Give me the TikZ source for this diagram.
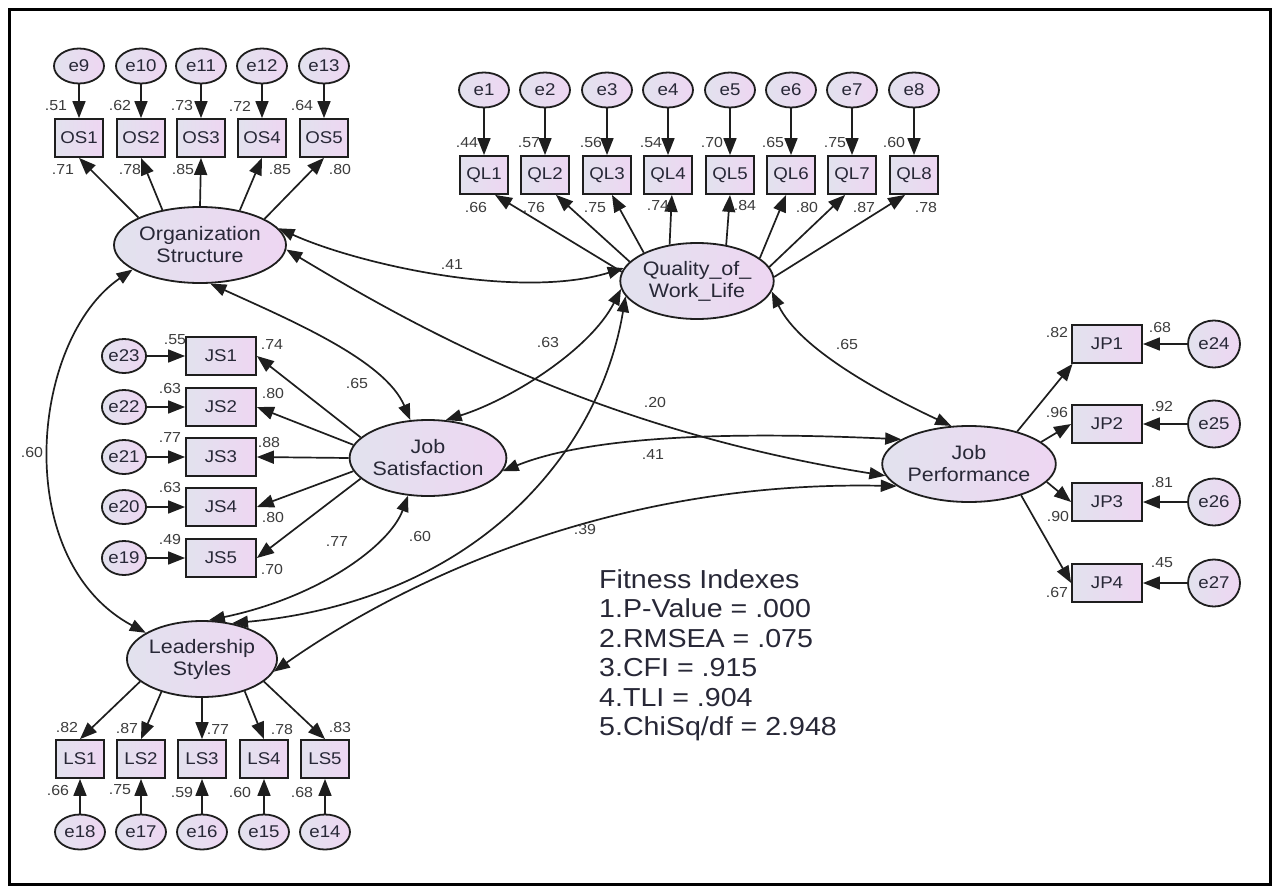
\documentclass[tikz,border=0pt]{standalone}
\usepackage{fontspec}
\setmainfont{Liberation Sans}[FakeStretch=1.1]
\usetikzlibrary{arrows.meta,shapes.geometric}
\definecolor{lvL}{RGB}{226,226,238}
\definecolor{lvR}{RGB}{238,214,242}
\definecolor{edgec}{RGB}{30,30,30}
\definecolor{txtc}{RGB}{40,40,55}
\definecolor{valc}{RGB}{60,60,60}
\tikzset{
 lat/.style={ellipse, draw=edgec, line width=1.8pt, left color=lvL, right color=lvR, minimum width=148pt, minimum height=76pt, inner sep=0pt, align=center, font=\fontsize{19.5}{22}\selectfont, text=txtc},
 err/.style={ellipse, draw=edgec, line width=1.8pt, left color=lvL, right color=lvR, minimum width=50pt, minimum height=35pt, inner sep=0pt, font=\fontsize{17}{20}\selectfont, text=txtc},
 serr/.style={err, minimum width=44pt, minimum height=34pt},
 cerr/.style={err, minimum width=52pt, minimum height=47pt},
 obs/.style={rectangle, draw=edgec, line width=1.8pt, left color=lvL, right color=lvR, minimum width=48pt, minimum height=38pt, inner sep=0pt, font=\fontsize{17}{20}\selectfont, text=txtc},
 wobs/.style={obs, minimum width=70pt},
 val/.style={font=\fontsize{14.5}{16}\selectfont, text=valc, inner sep=0pt},
 arr/.style={draw=edgec, line width=1.7pt, -{Triangle[length=17pt,width=13pt]}},
 cov/.style={draw=edgec, line width=1.7pt, {Triangle[length=16pt,width=12pt]}-{Triangle[length=16pt,width=12pt]}},
}
\begin{document}
\begin{tikzpicture}[x=1pt,y=-1pt]
\fill[white] (0,0) rectangle (1279,891);
\useasboundingbox (0,0) rectangle (1279,891);
\draw[line width=3pt, black] (9,10) rectangle (1270,884);

% latent variables
\node[lat] (OS) at (200,245) {Organization\\Structure};
\node[lat] (QWL) at (697,281) {Quality\_of\_\\Work\_Life};
\node[lat] (JS) at (428,458) {Job\\Satisfaction};
\node[lat] (JP) at (969,464) {Job\\Performance};
\node[lat] (LS) at (202,659) {Leadership\\Styles};

% OS indicators
\foreach \n/\x/\e/\a in {1/79/9/156,2/141/10/137,3/201/11/90,4/262/12/41,5/324/13/22}{
  \node[obs] (OS\n) at (\x,138) {OS\n};
  \node[err] (e\e) at (\x,66) {e\e};
  \draw[arr] (e\e) -- (OS\n);
  \draw[arr] (OS.\a) -- (OS\n.south);
}
% QL indicators
\foreach \n/\x/\a/\b in {1/484/173/-61,2/545/164/-61,3/607/152/-76,4/668/127/-79,5/730/51/-90,6/791/20/-104,7/852/11/-109,8/914/3/-114}{
  \node[obs] (QL\n) at (\x,175) {QL\n};
  \node[err] (e\n) at (\x,90) {e\n};
  \draw[arr] (e\n) -- (QL\n);
  \draw[arr] (QWL.\a) -- (QL\n.\b);
}
% JS indicators
\foreach \n/\y/\e/\a in {1/356/23/163,2/407/22/170,3/457/21/180,4/507/20/190,5/558/19/197}{
  \node[wobs] (JS\n) at (221,\y) {JS\n};
  \node[serr] (e\e) at (124,\y) {e\e};
  \draw[arr] (e\e) -- (JS\n);
  \draw[arr] (JS.\a) -- (JS\n.east);
}
% JP indicators
\foreach \n/\y/\e/\a/\b in {1/344/24/34/-150,2/424/25/17/west,3/502/26/-13/west,4/583/27/-31/west}{
  \node[wobs] (JP\n) at (1107,\y) {JP\n};
  \node[cerr] (e\e) at (1214,\y) {e\e};
  \draw[arr] (e\e) -- (JP\n);
  \draw[arr] (JP.\a) -- (JP\n.\b);
}
% LS indicators
\foreach \n/\x/\e/\a in {1/80/18/-160,2/141/17/-141,3/202/16/-90,4/264/15/-37,5/325/14/-20}{
  \node[obs] (LS\n) at (\x,759) {LS\n};
  \node[err] (e\e) at (\x,832) {e\e};
  \draw[arr] (e\e) -- (LS\n);
  \draw[arr] (LS.\a) -- (LS\n.north);
}

% covariances
\draw[cov] (OS.12) .. controls (360,265) and (520,300) .. (QWL.170);
\draw[cov] (OS.-75) .. controls (290,320) and (385,360) .. (JS.115);
\draw[cov] (OS.-3) .. controls (420,330) and (600,430) .. (JP.188);
\draw[cov] (OS.200) .. controls (30,340) and (10,560) .. (LS.155);
\draw[cov] (QWL.186) .. controls (590,350) and (510,400) .. (JS.65);
\draw[cov] (QWL.192) .. controls (600,450) and (480,600) .. (LS.50);
\draw[cov] (JS.-118) .. controls (390,545) and (320,597) .. (LS.80);
\draw[cov] (QWL.-8) .. controls (800,350) and (885,395) .. (JP.115);
\draw[cov] (JS.-10) .. controls (580,440) and (700,430) .. (JP.160);
\draw[cov] (LS.-10) .. controls (390,590) and (600,480) .. (JP.197);

% covariance labels
\node[val] (c1) at (452,265) {.41};
\node[val] (c2) at (357,384) {.65};
\node[val] (c3) at (655,403) {.20};
\node[val] (c4) at (32,453) {.60};
\node[val] (c5) at (548,343) {.63};
\node[val] (c6) at (420,537) {.60};
\node[val] (c7) at (847,345) {.65};
\node[val] (c8) at (653,455) {.41};
\node[val] (c9) at (337,542) {.77};
\node[val] (c10) at (585,530) {.39};

% OS values
\node[val] (vo1) at (56,106) {.51};
\node[val] (vo2) at (120,106) {.62};
\node[val] (vo3) at (182,106) {.73};
\node[val] (vo4) at (240,106) {.72};
\node[val] (vo5) at (302,106) {.64};
\node[val] (wo1) at (63,170) {.71};
\node[val] (wo2) at (130,170) {.78};
\node[val] (wo3) at (183,170) {.85};
\node[val] (wo4) at (280,170) {.85};
\node[val] (wo5) at (340,170) {.80};
% QL values
\node[val] (vq1) at (467,143) {.44};
\node[val] (vq2) at (529,143) {.57};
\node[val] (vq3) at (591,143) {.56};
\node[val] (vq4) at (651,143) {.54};
\node[val] (vq5) at (712,143) {.70};
\node[val] (vq6) at (773,143) {.65};
\node[val] (vq7) at (835,143) {.75};
\node[val] (vq8) at (894,143) {.60};
\node[val] (wq1) at (476,208) {.66};
\node[val] (wq2) at (534,208) {.76};
\node[val] (wq3) at (595,208) {.75};
\node[val] (wq4) at (658,206) {.74};
\node[val] (wq5) at (745,206) {.84};
\node[val] (wq6) at (807,208) {.80};
\node[val] (wq7) at (864,208) {.87};
\node[val] (wq8) at (926,208) {.78};
% JS values
\node[val] (vj1) at (175,340) {.55};
\node[val] (wj1) at (272,345) {.74};
\node[val] (vj2) at (170,389) {.63};
\node[val] (wj2) at (273,394) {.80};
\node[val] (vj3) at (170,438) {.77};
\node[val] (wj3) at (269,443) {.88};
\node[val] (vj4) at (170,488) {.63};
\node[val] (wj4) at (273,518) {.80};
\node[val] (vj5) at (170,540) {.49};
\node[val] (wj5) at (272,570) {.70};
% JP values
\node[val] (vp1) at (1057,333) {.82};
\node[val] (wp1) at (1160,328) {.68};
\node[val] (vp2) at (1057,413) {.96};
\node[val] (wp2) at (1162,407) {.92};
\node[val] (wp3) at (1162,483) {.81};
\node[val] (vp3) at (1058,517) {.90};
\node[val] (wp4) at (1162,563) {.45};
\node[val] (vp4) at (1057,593) {.67};
% LS values
\node[val] (vl1) at (67,727) {.82};
\node[val] (vl2) at (127,728) {.87};
\node[val] (vl3) at (218,730) {.77};
\node[val] (vl4) at (282,729) {.78};
\node[val] (vl5) at (340,727) {.83};
\node[val] (wl1) at (58,790) {.66};
\node[val] (wl2) at (120,790) {.75};
\node[val] (wl3) at (182,792) {.59};
\node[val] (wl4) at (240,792) {.60};
\node[val] (wl5) at (302,792) {.68};

% fitness indexes
\node[anchor=north west, align=left, inner sep=0pt, text=txtc, font=\fontsize{26}{29.5}\selectfont] (fit) at (599,569)
 {Fitness Indexes\\1.P-Value = .000\\2.RMSEA = .075\\3.CFI = .915\\4.TLI = .904\\5.ChiSq/df = 2.948};
\end{tikzpicture}
\end{document}
